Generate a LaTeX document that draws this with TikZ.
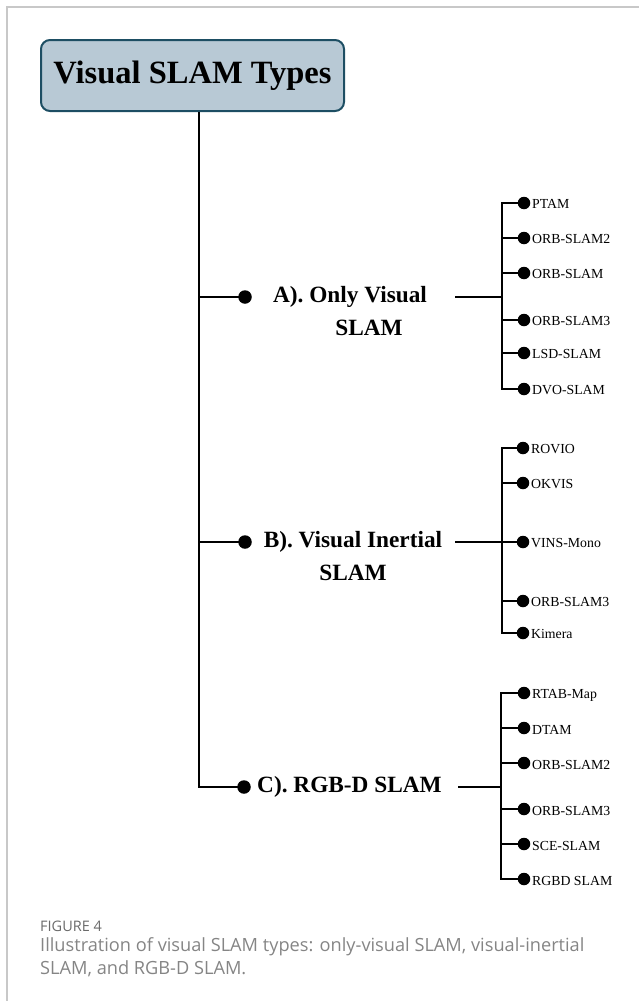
\documentclass[tikz,border=0pt]{standalone}
\usepackage{fontspec}
\setmainfont{Liberation Serif}
\newfontfamily\capfont{Open Sans}
\definecolor{boxfill}{HTML}{B8C9D5}
\definecolor{boxline}{HTML}{1D4E63}
\definecolor{framegray}{HTML}{C8C8C8}
\definecolor{capgray}{HTML}{858585}
\tikzset{
  dotnode/.style={circle,fill=black,inner sep=0pt,minimum size=13.5pt},
  itemtext/.style={anchor=west,inner sep=1.5pt,font=\fontsize{13.8}{15}\selectfont},
  cattext/.style={font=\bfseries\fontsize{23.3}{33}\selectfont,align=center,inner sep=0pt},
  trunkline/.style={line width=2pt},
  subline/.style={line width=2.6pt},
}
\begin{document}
\begin{tikzpicture}[x=1pt,y=-1pt]
\useasboundingbox (0,0) rectangle (639,1001);
% frame
\draw[framegray,line width=1.5pt] (7,1001) -- (7,7) -- (639,7);
% title
\node[draw=boxline,fill=boxfill,line width=2pt,rounded corners=9pt,
  minimum width=303pt,minimum height=71pt,inner sep=0pt,
  font=\bfseries\fontsize{32.5}{36}\selectfont] (title) at (192.5,75.5) {Visual SLAM Types};
\coordinate (t) at (199,112);
% category dots
\node[dotnode] (adot) at (245,297) {};
\node[dotnode] (bdot) at (245,542) {};
\node[dotnode] (cdot) at (244,787) {};
\draw[trunkline] (t) |- (cdot.center);
\draw[trunkline] (t |- adot) -- (adot.center);
\draw[trunkline] (t |- bdot) -- (bdot.center);
% category labels
\node[cattext] (alab) at (350,311) {A). Only Visual\\\hspace*{38pt}SLAM};
\node[cattext] (blab) at (353,556) {B). Visual Inertial\\SLAM};
\node[cattext,anchor=west] (clab) at (257,787) {C). RGB-D SLAM};
% connectors to bars
\coordinate (ain) at (455,297);
\coordinate (abar) at (502,297);
\coordinate (bin) at (455,542);
\coordinate (bbar) at (502,542);
\coordinate (cin) at (458,787);
\coordinate (cbar) at (501,787);
\draw[subline] (ain) -- (abar);
\draw[subline] (bin) -- (bbar);
\draw[subline] (cin) -- (cbar);
% A items
\foreach \n/\y/\txt in {1/203/PTAM,2/238/ORB-SLAM2,3/273/ORB-SLAM,4/320/ORB-SLAM3,5/353/LSD-SLAM,6/389/DVO-SLAM}{
  \node[dotnode,minimum size=12.5pt] (a\n) at (524,\y) {};
  \draw[subline] (abar) |- (a\n.center);
  \node[itemtext] (at\n) at ([yshift=-1pt]a\n.east) {\txt};
}
% B items
\foreach \n/\y/\txt in {1/448/ROVIO,2/483/OKVIS,3/542/VINS-Mono,4/601/ORB-SLAM3,5/633/Kimera}{
  \node[dotnode,minimum size=12.5pt] (b\n) at (523,\y) {};
  \draw[subline] (bbar) |- (b\n.center);
  \node[itemtext] (bt\n) at ([yshift=-1pt]b\n.east) {\txt};
}
% C items
\foreach \n/\y/\txt in {1/693/RTAB-Map,2/728/DTAM,3/763/ORB-SLAM2,4/809/ORB-SLAM3,5/844/SCE-SLAM,6/879/RGBD SLAM}{
  \node[dotnode,minimum size=12.5pt] (c\n) at (524,\y) {};
  \draw[subline] (cbar) |- (c\n.center);
  \node[itemtext] (ct\n) at ([yshift=-2pt]c\n.east) {\txt};
}
% caption
\node[anchor=base west,inner sep=0pt,text=capgray!80!black,font=\capfont\fontsize{14.5}{16}\selectfont] (fig) at (40,931) {FIGURE 4};
\node[anchor=base west,inner sep=0pt,align=left,text=capgray,
  font=\capfont\fontsize{18.2}{23}\selectfont] (cap) at (40,974)
  {Illustration of visual SLAM types: only-visual SLAM, visual-inertial\\SLAM, and RGB-D SLAM.};
\end{tikzpicture}
\end{document}
